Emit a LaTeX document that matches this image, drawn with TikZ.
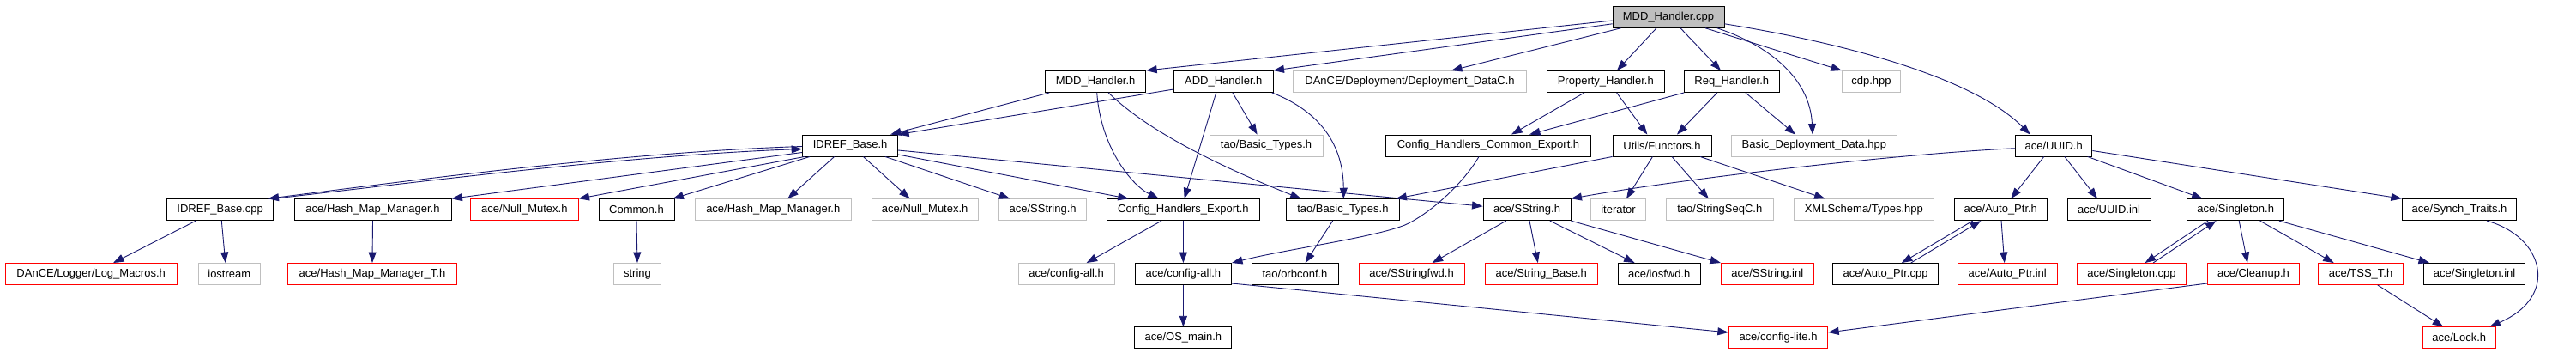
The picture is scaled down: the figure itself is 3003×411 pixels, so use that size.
\documentclass[tikz,border=0pt]{standalone}
\usepackage{fontspec}
\newfontfamily\nf{Liberation Sans}
\usetikzlibrary{arrows.meta}
\definecolor{eblue}{RGB}{25,25,112}
\definecolor{gborder}{RGB}{191,191,191}
\definecolor{gfill}{RGB}{191,191,191}
\definecolor{rborder}{RGB}{255,0,0}
\tikzset{
  nb/.style={draw=black, line width=0.9pt, inner sep=0pt, minimum height=25pt,
    font=\nf\fontsize{13}{15}\selectfont, anchor=center},
  ng/.style={nb, draw=gborder},
  nr/.style={nb, draw=rborder},
  dep/.style={draw=eblue, line width=0.9pt, -{Triangle[length=12.5pt,width=9pt]}},
}
\begin{document}
\begin{tikzpicture}[x=1pt,y=-1pt]
\fill[white] (0,0) rectangle (3003,411);
\useasboundingbox (0,0) rectangle (3003,411);
% row 0
\node[nb, fill=gfill, minimum width=130pt] (root) at (1945,19.8) {MDD\_Handler.cpp};
% row 1
\node[nb, minimum width=117pt] (mddh) at (1277.2,95) {MDD\_Handler.h};
\node[nb, minimum width=115.4pt] (addh) at (1426.3,95) {ADD\_Handler.h};
\node[ng, minimum width=271.6pt] (dance) at (1643.5,95) {DAnCE/Deployment/Deployment\_DataC.h};
\node[nb, minimum width=136.4pt] (proph) at (1871.8,95) {Property\_Handler.h};
\node[nb, minimum width=110.4pt] (reqh) at (2018.8,95) {Req\_Handler.h};
\node[ng, minimum width=68.3pt] (cdp) at (2181.5,95) {cdp.hpp};
% row 2
\node[nb, minimum width=111pt] (idrefh) at (991.1,169.5) {IDREF\_Base.h};
\node[ng, minimum width=132pt] (taobg) at (1476,169.5) {tao/Basic\_Types.h};
\node[nb, minimum width=239.2pt] (chce) at (1735,169.5) {Config\_Handlers\_Common\_Export.h};
\node[nb, minimum width=115pt] (func) at (1937.5,169.5) {Utils/Functors.h};
\node[ng, minimum width=192.5pt] (bdd) at (2114.8,169.5) {Basic\_Deployment\_Data.hpp};
\node[nb, minimum width=89.3pt] (uuid) at (2394.2,169.5) {ace/UUID.h};
% row 3
\node[nb, minimum width=124.4pt] (idrefcpp) at (256.7,244.2) {IDREF\_Base.cpp};
\node[nb, minimum width=183pt] (hmm) at (434.5,244.2) {ace/Hash\_Map\_Manager.h};
\node[nr, minimum width=125.5pt] (nmr) at (611.3,244.2) {ace/Null\_Mutex.h};
\node[nb, minimum width=88pt] (common) at (742,244.2) {Common.h};
\node[ng, minimum width=181.4pt] (hmmg) at (901.3,244.2) {ace/Hash\_Map\_Manager.h};
\node[ng, minimum width=124.3pt] (nmg) at (1078.2,244.2) {ace/Null\_Mutex.h};
\node[ng, minimum width=102pt] (ssg) at (1215.6,244.2) {ace/SString.h};
\node[nb, minimum width=177.2pt] (che) at (1379.4,244.2) {Config\_Handlers\_Export.h};
\node[nb, minimum width=132pt] (taob) at (1565.4,244.2) {tao/Basic\_Types.h};
\node[nb, minimum width=102pt] (ss) at (1780,244.2) {ace/SString.h};
\node[ng, minimum width=63.8pt] (iter) at (1886.5,244.2) {iterator};
\node[ng, minimum width=124.4pt] (tss) at (2004.8,244.2) {tao/StringSeqC.h};
\node[ng, minimum width=163.5pt] (xml) at (2172.8,244.2) {XMLSchema/Types.hpp};
\node[nb, minimum width=108.5pt] (aptr) at (2332.3,244.2) {ace/Auto\_Ptr.h};
\node[nb, minimum width=97pt] (uuidinl) at (2458.5,244.2) {ace/UUID.inl};
\node[nb, minimum width=113pt] (sing) at (2606.2,244.2) {ace/Singleton.h};
\node[nb, minimum width=133.3pt] (synch) at (2867,244.2) {ace/Synch\_Traits.h};
% row 4
\node[nr, minimum width=199.6pt] (log) at (106.2,319) {DAnCE/Logger/Log\_Macros.h};
\node[ng, minimum width=72.6pt] (ios) at (267.3,319) {iostream};
\node[nr, minimum width=197pt] (hmmt) at (434,319) {ace/Hash\_Map\_Manager\_T.h};
\node[ng, minimum width=54.8pt] (str) at (743,319) {string};
\node[ng, minimum width=111.5pt] (cfgg) at (1243.2,319) {ace/config-all.h};
\node[nb, minimum width=112.3pt] (cfg) at (1379.4,319) {ace/config-all.h};
\node[nb, minimum width=101pt] (orb) at (1509.5,319) {tao/orbconf.h};
\node[nr, minimum width=123.3pt] (ssfwd) at (1645.6,319) {ace/SStringfwd.h};
\node[nr, minimum width=130.7pt] (sbase) at (1796.8,319) {ace/String\_Base.h};
\node[nb, minimum width=95.5pt] (iosfwd) at (1934.2,319) {ace/iosfwd.h};
\node[nr, minimum width=107.8pt] (ssinl) at (2060.3,319) {ace/SString.inl};
\node[nb, minimum width=123.1pt] (aptrcpp) at (2198,319) {ace/Auto\_Ptr.cpp};
\node[nr, minimum width=115.5pt] (aptrinl) at (2340.2,319) {ace/Auto\_Ptr.inl};
\node[nr, minimum width=127pt] (singcpp) at (2485,319) {ace/Singleton.cpp};
\node[nr, minimum width=107.2pt] (cleanup) at (2627,319) {ace/Cleanup.h};
\node[nr, minimum width=98.2pt] (tsst) at (2752,319) {ace/TSS\_T.h};
\node[nb, minimum width=118.6pt] (singinl) at (2884.6,319) {ace/Singleton.inl};
% row 5
\node[nb, minimum width=113pt] (osmain) at (1379.4,393.3) {ace/OS\_main.h};
\node[nr, minimum width=115.4pt] (cfglite) at (2073,393.3) {ace/config-lite.h};
\node[nr, minimum width=85.4pt] (lock) at (2866.7,393.3) {ace/Lock.h};
% edges from root
\draw[dep] ([yshift=-4.2]root.west) -- (mddh.north east);
\draw[dep] ([yshift=-8]root.west) -- (addh.north east);
\draw[dep] ([xshift=-55.4]root.south) -- ([xshift=48.5]dance.north);
\draw[dep] ([xshift=-14]root.south) -- ([xshift=13.2]proph.north);
\draw[dep] ([xshift=14]root.south) -- ([xshift=-12.8]reqh.north);
\draw[dep] ([xshift=43]root.south) -- (cdp.north west);
\draw[dep] ([xshift=56.7]root.south) .. controls (2060,52) and (2110,90) .. ([xshift=-1.8]bdd.north);
\draw[dep] ([yshift=-8]root.east) .. controls (2150,50) and (2300,90) .. ([xshift=-27.5]uuid.north);
% MDD_Handler.h
\draw[dep] ([xshift=-54]mddh.south) -- ([xshift=47]idrefh.north);
\draw[dep] ([xshift=1.5]mddh.south) .. controls (1283,170) and (1318,215) .. ([xshift=-28.6]che.north);
\draw[dep] ([xshift=15]mddh.south) .. controls (1345,160) and (1450,205) .. ([xshift=-48.8]taob.north);
% ADD_Handler.h
\draw[dep] ([yshift=-9]addh.west) -- (idrefh.north east);
\draw[dep] ([xshift=-8.6]addh.south) -- ([xshift=1.3]che.north);
\draw[dep] ([xshift=10.6]addh.south) -- ([xshift=-10.4]taobg.north);
\draw[dep] ([xshift=56.5]addh.south) .. controls (1540,130) and (1566,170) .. ([xshift=0.9]taob.north);
% Property_Handler.h
\draw[dep] ([xshift=-24.8]proph.south) -- ([xshift=27]chce.north);
\draw[dep] ([xshift=12.8]proph.south) -- ([xshift=-17.2]func.north);
% Req_Handler.h
\draw[dep] (reqh.south west) -- ([xshift=48]chce.north);
\draw[dep] ([xshift=-17]reqh.south) -- ([xshift=17.5]func.north);
\draw[dep] ([xshift=16]reqh.south) -- ([xshift=-21.8]bdd.north);
% IDREF_Base.h
\draw[dep] ([yshift=-1]idrefh.west) .. controls (730,177) and (480,210) .. ([xshift=55.8]idrefcpp.north);
\draw[dep] ([xshift=62]idrefcpp.north) .. controls (480,213) and (730,181) .. ([yshift=-4]idrefh.west);
\draw[dep] ([yshift=-8]idrefh.west) -- (hmm.north east);
\draw[dep] ([xshift=-53]idrefh.south) -- (nmr.north east);
\draw[dep] ([xshift=-47]idrefh.south) -- ([xshift=42.4]common.north);
\draw[dep] ([xshift=-18.5]idrefh.south) -- ([xshift=17]hmmg.north);
\draw[dep] ([xshift=15.3]idrefh.south) -- ([xshift=-17.6]nmg.north);
\draw[dep] ([xshift=40.8]idrefh.south) -- ([xshift=-38.3]ssg.north);
\draw[dep] ([yshift=-10.5]idrefh.east) -- ([xshift=-63.7]che.north);
\draw[dep] ([yshift=-5.5]idrefh.east) -- ([yshift=4]ss.west);
% IDREF_Base.cpp and others
\draw[dep] ([xshift=-28.4]idrefcpp.south) -- ([xshift=25.8]log.north);
\draw[dep] ([xshift=1.6]idrefcpp.south) -- ([xshift=-4.5]ios.north);
\draw[dep] (hmm.south) -- (hmmt.north);
\draw[dep] (common.south) -- (str.north);
% Config_Handlers_Common_Export.h
\draw[dep] ([xshift=-11]chce.south) .. controls (1705,215) and (1665,250) .. (1637.8,262)
  .. controls (1600,277) and (1500,290) .. (cfg.north east);
% Utils/Functors.h
\draw[dep] (func.south west) -- ([xshift=62]taob.north);
\draw[dep] ([xshift=-11]func.south) -- ([xshift=9.5]iter.north);
\draw[dep] ([xshift=11.5]func.south) -- ([xshift=-13]tss.north);
\draw[dep] ([xshift=44.5]func.south) -- ([xshift=-45.3]xml.north);
% ace/UUID.h
\draw[dep] ([yshift=-3.2]uuid.west) .. controls (2200,180) and (1950,210) .. (ss.north east);
\draw[dep] ([xshift=-11.5]uuid.south) -- ([xshift=12]aptr.north);
\draw[dep] ([xshift=12.7]uuid.south) -- ([xshift=-13.5]uuidinl.north);
\draw[dep] ([xshift=39.5]uuid.south) -- ([xshift=-38.6]sing.north);
\draw[dep] ([yshift=-6]uuid.east) -- (synch.north west);
% Config_Handlers_Export.h, tao/Basic_Types.h
\draw[dep] ([xshift=-25.4]che.south) -- ([xshift=23.4]cfgg.north);
\draw[dep] (che.south) -- (cfg.north);
\draw[dep] ([xshift=-11.8]taob.south) -- ([xshift=12.2]orb.north);
% ace/SString.h
\draw[dep] ([xshift=-24.3]ss.south) -- ([xshift=24]ssfwd.north);
\draw[dep] ([xshift=3]ss.south) -- ([xshift=-4]sbase.north);
\draw[dep] ([xshift=26.8]ss.south) -- ([xshift=-28.6]iosfwd.north);
\draw[dep] (ss.south east) -- (ssinl.north west);
% ace/Auto_Ptr.h
\draw[dep] ([xshift=-32.6]aptr.south) -- ([xshift=18.8]aptrcpp.north);
\draw[dep] ([xshift=29.7]aptrcpp.north) -- ([xshift=-23]aptr.south);
\draw[dep] ([xshift=0.7]aptr.south) -- ([xshift=-3.5]aptrinl.north);
% ace/Singleton.h
\draw[dep] ([xshift=-32.2]sing.south) -- ([xshift=15.6]singcpp.north);
\draw[dep] ([xshift=25]singcpp.north) -- ([xshift=-22.7]sing.south);
\draw[dep] ([xshift=4]sing.south) -- ([xshift=-7]cleanup.north);
\draw[dep] ([xshift=28.4]sing.south) -- ([xshift=-31.3]tsst.north);
\draw[dep] ([xshift=50.7]sing.south) -- ([xshift=-52.6]singinl.north);
% lower rows
\draw[dep] (cfg.south) -- (osmain.north);
\draw[dep] ([yshift=-11]cfg.east) -- ([yshift=6.3]cfglite.west);
\draw[dep] ([yshift=-11]cleanup.west) -- ([yshift=6.3]cfglite.east);
\draw[dep] ([xshift=19.7]tsst.south) -- ([xshift=-18.5]lock.north);
\draw[dep] ([xshift=32]synch.south) .. controls (2965,275) and (2985,345) .. ([xshift=35.7]lock.north);
\end{tikzpicture}
\end{document}
